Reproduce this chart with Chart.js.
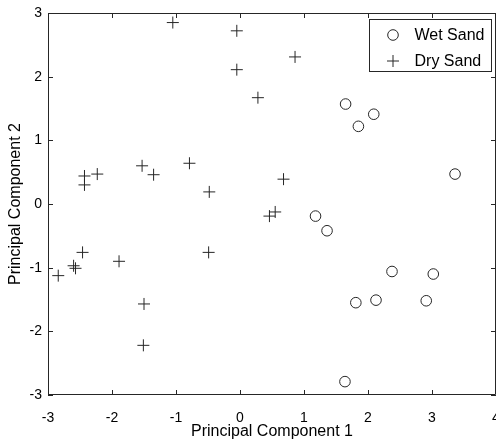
<!DOCTYPE html>
<html>
<head>
<meta charset="utf-8">
<script src="https://cdn.jsdelivr.net/npm/chart.js@4/dist/chart.umd.min.js"></script>
<style>
  html, body { margin: 0; padding: 0; background: #fff; }
  #wrap { width: 496px; height: 441px; position: relative; }
</style>
</head>
<body>
<div id="wrap"><canvas id="pcaChart"></canvas></div>
<script>
// 湿沙
const wetX = [1.65, 2.09, 1.85, 3.36, 1.18, 1.36, 2.375, 3.02, 1.81, 2.125, 2.91, 1.64];
const wetY = [1.57, 1.41, 1.22, 0.47, -0.19, -0.42, -1.06, -1.10, -1.55, -1.51, -1.52, -2.79];
// 干沙
const dryX = [-1.05, -0.05, -0.05, -2.43, -2.43, -2.23, -1.53, -1.35, -0.79, -0.48, 0.86, 0.28, 0.68, 0.55, 0.46, -2.84, -2.60, -2.57, -2.46, -1.89, -0.49, -1.50, -1.51];
const dryY = [2.85, 2.72, 2.11, 0.44, 0.30, 0.47, 0.60, 0.46, 0.64, 0.19, 2.31, 1.67, 0.39, -0.125, -0.19, -1.125, -0.97, -1.01, -0.76, -0.90, -0.76, -1.57, -2.22];

const seriesLabels = ['Wet Sand', 'Dry Sand'];
const xTicks = [-3, -2, -1, 0, 1, 2, 3, 4];
const yTicks = [-3, -2, -1, 0, 1, 2, 3];

const FONT = '"Liberation Sans", Arial, Helvetica, sans-serif';
const INK = '#262626';

function toPoints(xs, ys) {
    return xs.map((x, i) => ({ x: x, y: ys[i] }));
}

// 边框、内向刻度、图例
const boxPlugin = {
    id: 'matlabBox',
    afterDraw(chart) {
        const ctx = chart.ctx;
        const a = chart.chartArea;
        const sx = chart.scales.x;
        const sy = chart.scales.y;
        const tick = 5;
        ctx.save();
        ctx.strokeStyle = INK;
        ctx.lineWidth = 1;
        ctx.beginPath();
        ctx.moveTo(a.left + 0.5, a.top + 0.5);
        ctx.lineTo(a.right - 0.5, a.top + 0.5);
        ctx.lineTo(a.right - 0.5, a.bottom - 0.5);
        ctx.lineTo(a.left + 0.5, a.bottom - 0.5);
        ctx.closePath();
        ctx.stroke();

        ctx.beginPath();
        xTicks.forEach(v => {
            const px = Math.round(sx.getPixelForValue(v)) + 0.5;
            ctx.moveTo(px, a.bottom);
            ctx.lineTo(px, a.bottom - tick);
            ctx.moveTo(px, a.top);
            ctx.lineTo(px, a.top + tick);
        });
        yTicks.forEach(v => {
            const py = Math.round(sy.getPixelForValue(v)) + 0.5;
            ctx.moveTo(a.left, py);
            ctx.lineTo(a.left + tick, py);
            ctx.moveTo(a.right, py);
            ctx.lineTo(a.right - tick, py);
        });
        ctx.stroke();

        // 图例
        const lx = 369.5, ly = 19.5, lw = 122, lh = 52;
        ctx.fillStyle = '#fff';
        ctx.fillRect(lx, ly, lw, lh);
        ctx.strokeRect(lx, ly, lw, lh);
        ctx.font = '16px ' + FONT;
        ctx.textBaseline = 'middle';
        ctx.textAlign = 'left';
        chart.data.datasets.forEach((ds, i) => {
            const cy = ly + 15.5 + i * 26;
            Chart.helpers.drawPoint(ctx, {
                pointStyle: ds.pointStyle,
                radius: ds.pointRadius,
                borderWidth: 1
            }, lx + 23.5, cy);
            ctx.fillStyle = '#000';
            ctx.fillText(ds.label, lx + 45, cy + 1);
        });
        ctx.restore();
    }
};

const tickFont = { family: FONT, size: 14 };
const titleFont = { family: FONT, size: 16 };

new Chart(document.getElementById('pcaChart'), {
    type: 'scatter',
    data: {
        datasets: [{
            label: seriesLabels[0],
            data: toPoints(wetX, wetY),
            pointStyle: 'circle',
            pointRadius: 5.3,
            pointBorderWidth: 1,
            borderColor: INK,
            backgroundColor: 'rgba(0,0,0,0)'
        }, {
            label: seriesLabels[1],
            data: toPoints(dryX, dryY),
            pointStyle: 'cross',
            pointRadius: 6,
            pointBorderWidth: 1,
            borderColor: INK,
            backgroundColor: INK
        }]
    },
    options: {
        responsive: true,
        maintainAspectRatio: false,
        animation: false,
        layout: { autoPadding: false, padding: { top: 13, right: 0, left: 0, bottom: 0 } },
        plugins: {
            legend: { display: false },
            tooltip: { enabled: false }
        },
        scales: {
            x: {
                type: 'linear',
                min: -3,
                max: 4,
                afterBuildTicks: s => { s.ticks = xTicks.map(v => ({ value: v })); },
                afterFit: s => { s.height = 46; s.paddingLeft = 0; s.paddingRight = 0; },
                grid: { display: false, drawTicks: false },
                border: { display: false },
                ticks: { color: '#000', font: tickFont, padding: 15, maxRotation: 0 },
                title: {
                    display: true,
                    text: 'Principal Component 1',
                    color: '#000',
                    font: titleFont,
                    padding: { top: 0, bottom: 0 }
                }
            },
            y: {
                type: 'linear',
                min: -3,
                max: 3,
                afterBuildTicks: s => { s.ticks = yTicks.map(v => ({ value: v })); },
                afterFit: s => { s.width = 48; s.paddingTop = 0; s.paddingBottom = 0; },
                grid: { display: false, drawTicks: false },
                border: { display: false },
                ticks: { color: '#000', font: tickFont, padding: 6 },
                title: {
                    display: true,
                    text: 'Principal Component 2',
                    color: '#000',
                    font: titleFont,
                    padding: { top: 6, bottom: 0 }
                }
            }
        }
    },
    plugins: [boxPlugin]
});
</script>
</body>
</html>
